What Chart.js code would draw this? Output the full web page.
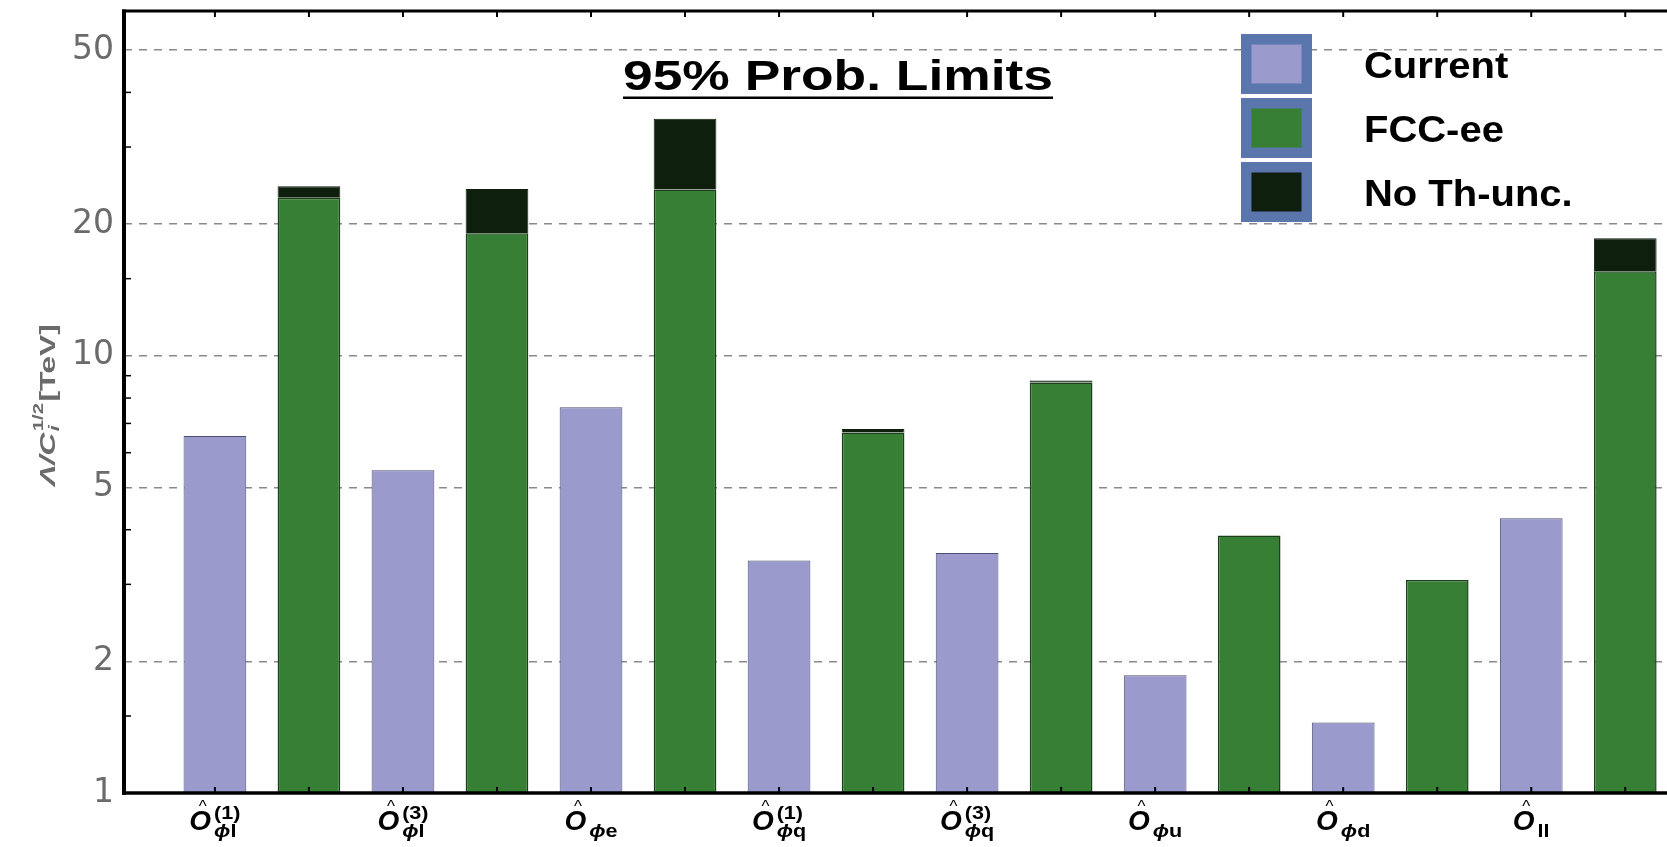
<!DOCTYPE html>
<html>
<head>
<meta charset="utf-8">
<script src="https://cdn.jsdelivr.net/npm/chart.js@4/dist/chart.umd.min.js"></script>
<style>
  html, body { margin: 0; padding: 0; background: #ffffff; }
  #wrap { width: 1667px; height: 847px; position: relative; }
  canvas { display: block; }
</style>
</head>
<body>
<div id="wrap"><canvas id="chart" width="1667" height="847" style="width:1667px;height:847px"></canvas></div>
<script>
// ---------------- data ----------------
const operators    = ['Ô_ϕl^(1)', 'Ô_ϕl^(3)', 'Ô_ϕe', 'Ô_ϕq^(1)', 'Ô_ϕq^(3)', 'Ô_ϕu', 'Ô_ϕd', 'Ô_ll'];
const operatorPhi  = [true, true, true, true, true, true, true, false];
const operatorSub  = ['l', 'l', 'e', 'q', 'q', 'u', 'd', 'll'];
const operatorSup  = ['(1)', '(3)', '', '(1)', '(3)', '', '', ''];
const currentLimits = [6.55, 5.47, 7.62, 3.40, 3.54, 1.86, 1.45, 4.25];
const fccLimits     = [22.97, 19.05, 24.0, 6.67, 8.68, 3.88, 3.07, 15.6];
const noThLimits    = [24.4, 24.05, 34.8, 6.80, 8.78, null, null, 18.55];
const seriesNames   = ['Current', 'FCC-ee', 'No Th-unc.'];
const yMajorTicks   = [1, 2, 5, 10, 20, 50];
const yMinorTicks   = [1.5, 3, 4, 6, 7, 8, 9, 15, 30, 40];
const titleText     = '95% Prob. Limits';
const yTitleParts   = { main: 'Λ/C', sub: 'i', sup: '1/2', unit: '[TeV]' };

// ---------------- styles ----------------
const colCurrent = '#9a9acc', colCurrentBorder = '#4e4e72';
const colFcc = '#367f34', colFccBorder = '#1c401c';
const colNoTh = '#0e1f0e';
const FONT = '"Liberation Sans", Arial, sans-serif';

// slot positions: Current at odd, FCC-ee at even positions
const slotCurrent = operators.map((_, i) => 2 * i + 1);
const slotFcc     = operators.map((_, i) => 2 * i + 2);
const allSlots    = slotCurrent.concat(slotFcc).sort((a, b) => a - b);

const dataCurrent = currentLimits.map((v, i) => ({ x: slotCurrent[i], y: v }));
const dataFcc     = fccLimits.map((v, i) => ({ x: slotFcc[i], y: v }));
const dataNoTh    = noThLimits.map((v, i) => (v == null ? null : { x: slotFcc[i], y: [fccLimits[i], v] }))
                              .filter(d => d !== null);

function line(ctx, x1, y1, x2, y2) { ctx.beginPath(); ctx.moveTo(x1, y1); ctx.lineTo(x2, y2); ctx.stroke(); }

function drawOpLabel(ctx, cx, phi, sub, sup) {
  const oFont = 'bold italic 28px ' + FONT;
  const sFont = 'bold 18px ' + FONT;
  const pFont = 'bold italic 18px ' + FONT;
  const sx = 1.2;
  ctx.font = oFont; const wO = ctx.measureText('O').width;
  ctx.font = pFont; const wPhi = phi ? ctx.measureText('ϕ').width * sx : 0;
  ctx.font = sFont;
  const wSub = wPhi + ctx.measureText(sub).width * sx;
  const wSup = sup ? ctx.measureText(sup).width * sx : 0;
  const gap = 3;
  const total = wO + gap + Math.max(wSub, wSup);
  const x0 = cx - total / 2;
  ctx.fillStyle = '#000'; ctx.textAlign = 'left'; ctx.textBaseline = 'alphabetic';
  ctx.font = oFont; ctx.fillText('O', x0, 830);
  ctx.font = '17px ' + FONT; ctx.textAlign = 'center';
  ctx.fillText('^', x0 + wO * 0.62, 812);
  ctx.textAlign = 'left';
  const xs = x0 + wO + gap;
  if (sup) { ctx.font = sFont; ctx.save(); ctx.translate(xs, 819); ctx.scale(sx, 1); ctx.fillText(sup, 0, 0); ctx.restore(); }
  ctx.save(); ctx.translate(xs, 837); ctx.scale(sx, 1);
  if (phi) { ctx.font = pFont; ctx.fillText('ϕ', 0, 0); }
  ctx.font = sFont; ctx.fillText(sub, wPhi / sx, 0);
  ctx.restore();
}

const decor = {
  id: 'decor',
  afterDatasetsDraw(chart) {
    const { ctx, chartArea: ca, scales: { x, y } } = chart;
    ctx.save();
    ctx.strokeStyle = '#000';
    // inward ticks at each bar slot (bottom and top)
    ctx.lineWidth = 2;
    x.ticks.forEach(t => {
      const px = x.getPixelForValue(t.value);
      line(ctx, px, ca.bottom, px, ca.bottom - 6);
      line(ctx, px, ca.top, px, ca.top + 6);
    });
    // minor y ticks
    ctx.lineWidth = 1.5;
    yMinorTicks.forEach(v => {
      const py = y.getPixelForValue(v);
      line(ctx, ca.left, py, ca.left + 7, py);
    });
    // frame
    ctx.lineWidth = 3.5; line(ctx, ca.left - 2, ca.bottom, ca.right, ca.bottom);
    ctx.lineWidth = 3;   line(ctx, ca.left - 2, ca.top, ca.right, ca.top);
    ctx.lineWidth = 4;   line(ctx, ca.left, ca.top - 1.5, ca.left, ca.bottom + 1.75);
    ctx.restore();
  },
  afterDraw(chart) {
    const { ctx, scales: { x } } = chart;
    ctx.save();
    // x category labels
    operators.forEach((_, i) => drawOpLabel(ctx, x.getPixelForValue(slotCurrent[i]), operatorPhi[i], operatorSub[i], operatorSup[i]));

    // y axis title (rotated)
    ctx.save();
    ctx.translate(55, 405); ctx.rotate(-Math.PI / 2);
    const mFont = 'bold 22px ' + FONT, miFont = 'bold italic 22px ' + FONT;
    const smFont = 'bold 14px ' + FONT, iFont = 'bold italic 15px ' + FONT;
    ctx.font = miFont; const wMain = ctx.measureText(yTitleParts.main).width;
    ctx.font = mFont; const wUnit = ctx.measureText(yTitleParts.unit).width;
    ctx.font = smFont; const wSup = ctx.measureText(yTitleParts.sup).width;
    ctx.font = iFont; const wSub = ctx.measureText(yTitleParts.sub).width;
    const wS = Math.max(wSup, wSub) + 2;
    const W = wMain + wS + wUnit;
    const s = 162 / W;
    ctx.scale(s, 1);
    ctx.fillStyle = '#6b6b6b'; ctx.textAlign = 'left'; ctx.textBaseline = 'alphabetic';
    let cx = -W / 2;
    ctx.font = miFont; ctx.fillText(yTitleParts.main, cx, 0); cx += wMain + 1;
    ctx.font = smFont; ctx.fillText(yTitleParts.sup, cx, -12);
    ctx.font = iFont; ctx.fillText(yTitleParts.sub, cx, 4);
    cx += wS;
    ctx.font = mFont; ctx.fillText(yTitleParts.unit, cx - 1, 0);
    ctx.restore();

    // title
    ctx.fillStyle = '#000'; ctx.textAlign = 'left'; ctx.textBaseline = 'alphabetic';
    ctx.font = 'bold 42px ' + FONT;
    const tw = ctx.measureText(titleText).width;
    ctx.save(); ctx.translate(623, 90); ctx.scale(430 / tw, 1); ctx.fillText(titleText, 0, 0); ctx.restore();
    ctx.fillRect(623, 96.5, 430, 2.5);

    // legend
    chart.data.datasets.forEach((d, i) => {
      const top = 34 + i * 64;
      ctx.fillStyle = '#5b75ad'; ctx.fillRect(1241, top, 71, 60);
      ctx.fillStyle = d.backgroundColor; ctx.fillRect(1251.5, top + 10.5, 50, 39);
      ctx.fillStyle = '#000'; ctx.font = 'bold 36px ' + FONT;
      ctx.save(); ctx.translate(1364, top + 43.5); ctx.scale(1.11, 1); ctx.fillText(d.label, 0, 0); ctx.restore();
    });
    ctx.restore();
  }
};

new Chart(document.getElementById('chart'), {
  type: 'bar',
  data: {
    datasets: [
      { label: seriesNames[0], data: dataCurrent, backgroundColor: colCurrent, borderColor: colCurrentBorder, borderWidth: 1 },
      { label: seriesNames[1], data: dataFcc, backgroundColor: colFcc, borderColor: colFccBorder, borderWidth: 1.5 },
      { label: seriesNames[2], data: dataNoTh, backgroundColor: colNoTh, borderColor: colNoTh, borderWidth: 1 }
    ]
  },
  options: {
    responsive: false,
    animation: false,
    devicePixelRatio: 1,
    categoryPercentage: 1,
    barPercentage: 0.667,
    layout: { padding: { top: 11, left: 0, right: 0, bottom: 0 } },
    plugins: { legend: { display: false }, title: { display: false }, tooltip: { enabled: false } },
    scales: {
      x: {
        type: 'linear', min: 0.033, max: 16.444, stacked: true, offset: false,
        grid: { display: false }, border: { display: false },
        ticks: { display: false },
        afterBuildTicks: s => { s.ticks = allSlots.map(v => ({ value: v })); },
        afterFit: s => { s.height = 54; s.paddingLeft = 0; s.paddingRight = 0; }
      },
      y: {
        type: 'logarithmic', min: 1, max: 61.4,
        afterBuildTicks: s => { s.ticks = yMajorTicks.map(v => ({ value: v, major: true })); },
        afterFit: s => { s.width = 124; s.paddingTop = 0; s.paddingBottom = 0; },
        ticks: {
          font: { family: 'DejaVu Sans', size: 33 }, color: '#6b6b6b', padding: 10, autoSkip: false,
          callback: v => String(v)
        },
        grid: { color: '#8a8a8a', lineWidth: 1.5, drawTicks: false },
        border: { display: false, dash: [8, 7] }
      }
    }
  },
  plugins: [decor]
});
</script>
</body>
</html>
